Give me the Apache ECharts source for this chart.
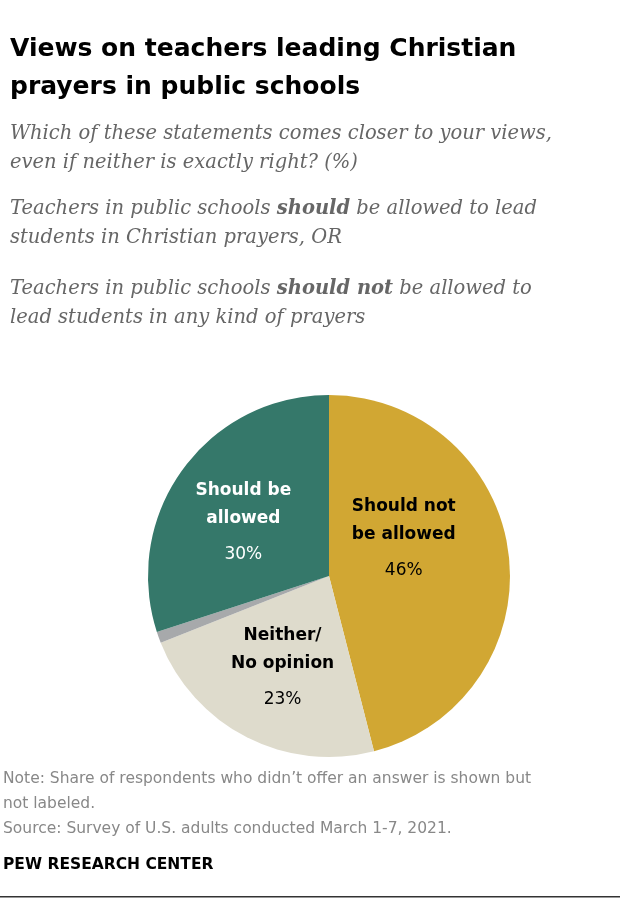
<!DOCTYPE html>
<html><head><meta charset="utf-8">
<script src="https://cdn.jsdelivr.net/npm/echarts@6/dist/echarts.min.js"></script>
<style>body{margin:0;background:#fff}#c{width:620px;height:916px}</style>
</head><body><div id="c"></div>
<script>
var categories=['Should not\nbe allowed','Neither/\nNo opinion','No answer','Should be\nallowed'];
var values=[46,23,1,30];
var colors=['#D1A733','#DEDBCC','#A7A9AB','#35786A'];
var textColors=['#000','#000','#000','#fff'];
var offsets=[[-18,-22],[-4,12],[0,0],[-10,6]];

var chart=echarts.init(document.getElementById('c'));
var serif='"DejaVu Serif", serif';
var sans='"DejaVu Sans", sans-serif';
chart.setOption({
  animation:false,
  graphic:[
    {type:'text',left:10,top:30,style:{text:'Views on teachers leading Christian\nprayers in public schools',font:'bold 25px '+sans,lineHeight:38,fill:'#000'}},
    {type:'text',left:10,top:119,style:{text:'Which of these statements comes closer to your views,\neven if neither is exactly right? (%)',font:'italic 19.5px '+serif,lineHeight:29,fill:'#666'}},
    {type:'text',left:10,top:199,style:{text:'{a|Teachers in public schools }{b|should}{a| be allowed to lead}\n{a|students in Christian prayers, OR}',
      rich:{a:{font:'italic 19.5px '+serif,fill:'#666',lineHeight:29},b:{font:'italic bold 19.5px '+serif,fill:'#666',lineHeight:29}}}},
    {type:'text',left:10,top:279,style:{text:'{a|Teachers in public schools }{b|should not}{a| be allowed to}\n{a|lead students in any kind of prayers}',
      rich:{a:{font:'italic 19.5px '+serif,fill:'#666',lineHeight:29},b:{font:'italic bold 19.5px '+serif,fill:'#666',lineHeight:29}}}},
    {type:'text',left:3,top:766,style:{text:'Note: Share of respondents who didn\u2019t offer an answer is shown but\nnot labeled.\nSource: Survey of U.S. adults conducted March 1-7, 2021.',font:'15.5px '+sans,lineHeight:25,fill:'#888'}},
    {type:'text',left:3,top:857,style:{text:'PEW RESEARCH CENTER',font:'bold 15.5px '+sans,fill:'#000'}},
    {type:'rect',shape:{x:0,y:896,width:620,height:1.5},style:{fill:'#333'}}
  ],
  series:[{
    type:'pie',center:[329,576],radius:[0,181],startAngle:90,clockwise:true,
    itemStyle:{borderWidth:0},
    labelLine:{show:false},
    data:categories.map(function(c,i){
      return {name:c,value:values[i],itemStyle:{color:colors[i]},
        label:{show:i!==2,position:'inside',offset:offsets[i],
          formatter:function(p){
            return p.name.split('\n').map(function(s){return '{n|'+s+'}';}).join('\n')+'\n{v|'+p.value+'%}';
          },
          rich:{n:{fontFamily:'"DejaVu Sans", sans-serif',fontWeight:'bold',fontSize:17,color:textColors[i],lineHeight:28,align:'center'},
                v:{fontFamily:'"DejaVu Sans", sans-serif',fontSize:17,color:textColors[i],lineHeight:44,align:'center'}}}};
    })
  }]
});
</script></body></html>
